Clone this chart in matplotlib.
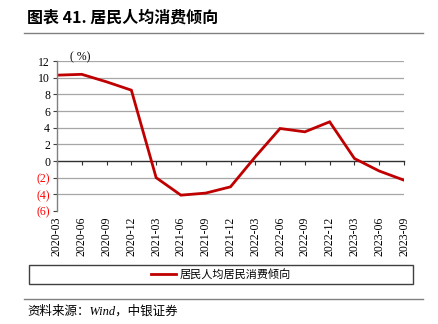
import numpy as np
import matplotlib
matplotlib.use('Agg')
import matplotlib.pyplot as plt
from matplotlib.lines import Line2D
from matplotlib.patches import Rectangle

plt.rcParams['font.family'] = ['Liberation Serif', 'Noto Sans CJK SC', 'DejaVu Sans']

# data
quarters = ['2020-03', '2020-06', '2020-09', '2020-12', '2021-03', '2021-06', '2021-09',
            '2021-12', '2022-03', '2022-06', '2022-09', '2022-12', '2023-03', '2023-06', '2023-09']
propensity = [10.3, 10.4, 9.5, 8.5, -2.0, -4.1, -3.85, -3.1, 0.5, 3.9, 3.5, 4.7, 0.3, -1.2, -2.3]
yticks = [12, 10, 8, 6, 4, 2, 0, -2, -4, -6]
ytick_labels = ['12', '10', '8', '6', '4', '2', '0', '(2)', '(4)', '(6)']
series_name = '居民人均居民消费倾向'

red = '#C00000'
cjk = ['Noto Sans CJK SC', 'DejaVu Sans']

fig = plt.figure(figsize=(4.38, 3.24), dpi=100)
ax = fig.add_axes([57/438, 1-211/324, 347/438, 150/324])

x = np.arange(len(quarters))
ax.plot(x, propensity, color=red, lw=2.0, solid_joinstyle='miter')

ax.set_xlim(0, len(quarters)-1)
ax.set_ylim(-6, 12)

# gridlines (none at -6)
for v in yticks:
    if v not in (0, -6):
        ax.axhline(v, color='#a6a6a6', lw=0.9, zorder=0)

ax.set_yticks(yticks)
ax.set_yticklabels(ytick_labels)
for lbl, v in zip(ax.get_yticklabels(), yticks):
    if v < 0:
        lbl.set_color('#ff0000')
ax.tick_params(axis='y', length=3, width=0.8, color='#404040', labelsize=8.5, pad=2)

ax.set_xticks(x)
ax.set_xticklabels(quarters, rotation=90)
ax.tick_params(axis='x', length=0, labelsize=8.5, pad=4)

for s in ['top', 'right', 'bottom']:
    ax.spines[s].set_visible(False)
ax.spines['left'].set_color('#808080')
ax.spines['left'].set_linewidth(1.0)

# zero axis with ticks
sec = ax.secondary_xaxis(1/3)
sec.set_xticks(x)
sec.set_xticklabels([])
sec.tick_params(axis='x', direction='out', length=3, width=0.8, color='#303030')
sec.spines['bottom'].set_color('#303030')
sec.spines['bottom'].set_linewidth(1.0)
for s in ['top', 'left', 'right']:
    sec.spines[s].set_visible(False)

fig.text(80/438, 1-57/324, '( %)', fontsize=8.5, ha='center', va='center')

# title and rules
fig.text(27/438, 1-18/324, '图表 41. 居民人均消费倾向', fontsize=11.5, fontweight='bold',
         family=cjk, va='center', ha='left')
fig.add_artist(Line2D([24/438, 423/438], [1-33/324, 1-33/324], color='#808080', lw=1.0))
fig.add_artist(Line2D([24/438, 423/438], [1-299/324, 1-299/324], color='#808080', lw=1.0))
fig.text(27/438, 1-311/324, '资料来源：Wind，中银证券', fontsize=9, style='italic',
         family=['Liberation Serif', 'Noto Sans CJK SC'], va='center', ha='left')

# legend
handle = Line2D([], [], color=red, lw=2.0)
leg = fig.legend([handle], [series_name], loc='center',
                 bbox_to_anchor=(29/438, 1-284/324, 384/438, 19/324),
                 frameon=False, handlelength=2.2, handletextpad=0.3,
                 borderpad=0.25, prop={'family': cjk, 'size': 8})
fig.add_artist(Rectangle((29/438, 1-284/324), 384/438, 19/324, transform=fig.transFigure,
                         fill=False, edgecolor='#404040', lw=1.0))

fig.savefig('out.png', dpi=100)
